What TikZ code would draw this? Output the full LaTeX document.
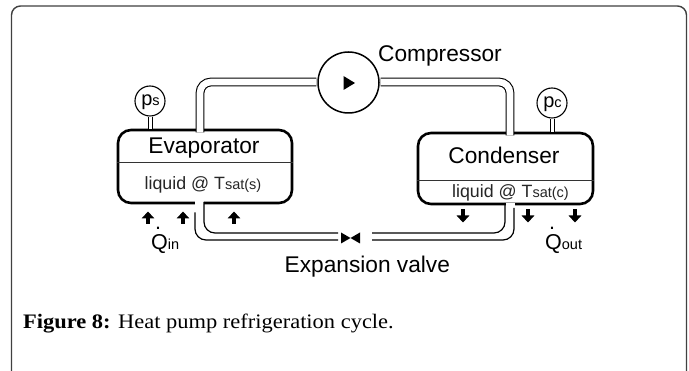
\documentclass[tikz,border=0pt]{standalone}
\usepackage{fontspec}
\setmainfont{Liberation Sans}
\newfontfamily\capfont[FakeStretch=1.09]{Liberation Serif}
\usetikzlibrary{arrows.meta}
\newcommand{\fs}[1]{\fontsize{#1}{#1}\selectfont}
\newcommand{\sm}[1]{{\fs{14.5}#1}}
\newcommand{\Qdot}{\leavevmode\rlap{\hspace{4pt}\raisebox{20.5pt}{.}}Q}
\tikzset{
  x=1pt,y=-1pt,
  frame/.style={draw=black!75,line width=1.4pt,rounded corners=9pt},
  vessel/.style={draw=black,line width=2.6pt,rounded corners=13pt,inner sep=0pt},
  instr/.style={circle,draw=black,line width=1.1pt,inner sep=0pt,minimum size=30pt},
  comp/.style={circle,draw=black,line width=1.5pt,inner sep=0pt,minimum size=61pt},
  pipe/.style={draw=black,line width=1.1pt,double=white,double distance=6.6pt,rounded corners=11pt},
  pipeline/.style={draw=black,line width=1.2pt,rounded corners=11pt},
  stem/.style={draw=black,line width=1pt,double=white,double distance=3pt},
  divider/.style={draw=black!80,line width=1pt},
  gap/.style={draw=white,line width=3.6pt},
  heat/.style={draw=black,line width=3.6pt,-{Triangle[length=7pt,width=12.5pt]}},
  big/.style={inner sep=0pt,font=\fs{22.7}},
  mid/.style={inner sep=0pt,font=\fs{17.8},text=black!85},
  gauge/.style={inner sep=0pt,font=\fs{20}},
  captext/.style={inner sep=0pt,font=\capfont\fs{20.6}}
}
\begin{document}
\begin{tikzpicture}
\useasboundingbox (0,0) rectangle (689,371);
\fill[white] (0,0) rectangle (689,371);
\draw[frame] (11.5,372) -- (11.5,6) -- (686.5,6) -- (686.5,372);
% main components
\node[vessel,minimum width=174pt,minimum height=73pt] (evap) at (205,166.5) {};
\node[vessel,minimum width=175pt,minimum height=71pt] (cond) at (505.5,168.5) {};
\node[comp] (cp) at (348.5,82.5) {};
\node[instr] (ps) at (150,101) {};
\node[instr] (pc) at (552,103) {};
% dividers
\coordinate (evL) at (evap.west |- 0,163); \coordinate (evR) at (evap.east |- 0,163);
\coordinate (coL) at (cond.west |- 0,181); \coordinate (coR) at (cond.east |- 0,181);
\draw[divider] (evL) -- (evR);
\draw[divider] (coL) -- (coR);
% gauge stems
\draw[stem] (ps.south) -- (ps.south |- evap.north);
\draw[stem] (pc.south) -- (pc.south |- cond.north);
% upper pipes
\coordinate (evOut) at (200,132.5);
\coordinate (coIn) at (510,135.5);
\draw[pipe] (evOut) |- ([xshift=-0.8pt,yshift=0.5pt]cp.west);
\draw[pipe] (coIn) |- ([xshift=0.8pt,yshift=0.5pt]cp.east);
% valve
\coordinate (valve) at (350.5,238);
\fill[black] (valve) -- (341,232.5) -- (341,243.5) -- cycle;
\fill[black] (valve) -- (360,232.5) -- (360,243.5) -- cycle;
% lower pipes
\draw[gap] (194.5,203) -- (203.5,203);
\draw[gap] (505.5,204.5) -- (514.5,204.5);
\coordinate (vLi) at (338,233); \coordinate (vLo) at (338,240);
\coordinate (vRi) at (372,233); \coordinate (vRo) at (372,240);
\draw[pipeline] (204,202) |- (vLi);
\draw[pipeline] (195,212.5) |- (vLo);
\draw[pipeline] (505,203) |- (vRi);
\draw[pipeline] (514,208) |- (vRo);
% compressor symbol
\fill[black] (343.5,76) -- (355,83) -- (343.5,90) -- cycle;
% heat arrows
\foreach \n/\x in {a/148,b/183,c/234}{
  \coordinate (u\n) at (\x,224); \coordinate (v\n) at (\x,211.5);
  \draw[heat] (u\n) -- (v\n);}
\foreach \n/\x in {d/463,e/528,f/575}{
  \coordinate (u\n) at (\x,209.5); \coordinate (v\n) at (\x,222.5);
  \draw[heat] (u\n) -- (v\n);}
% labels
\node[big,anchor=base] (tev) at (204,154) {Evaporator};
\node[big,anchor=base] (tco) at (504,164) {Condenser};
\node[big,anchor=base west] (tcp) at (378,62) {Compressor};
\node[big,anchor=base west] (tva) at (284.5,273) {Expansion valve};
\node[mid,anchor=base] (lev) at (203,190) {liquid @ T\sm{sat(s)}};
\node[mid,anchor=base] (lco) at (510.5,198) {liquid @ T\sm{sat(c)}};
\node[gauge,anchor=base] (tps) at (150.5,106) {p\sm{s}};
\node[gauge,anchor=base] (tpc) at (552.5,108) {p\sm{c}};
\node[big,anchor=base west,font=\fs{21.5}] (qi) at (151,250) {\Qdot\sm{in}};
\node[big,anchor=base west,font=\fs{21.5}] (qo) at (545,250) {\Qdot\sm{out}};
\node[captext,anchor=base west] (capt) at (23,329) {\textbf{Figure 8:} Heat pump refrigeration cycle.};
\end{tikzpicture}
\end{document}
